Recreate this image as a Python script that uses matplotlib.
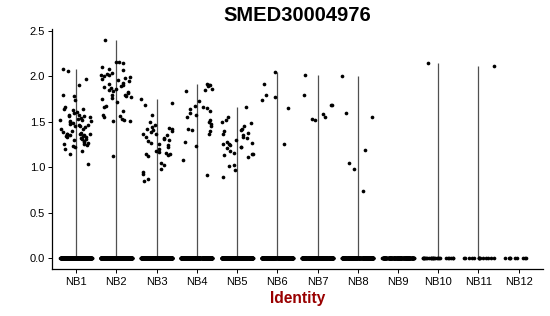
import numpy as np
import matplotlib
matplotlib.use("Agg")
import matplotlib.pyplot as plt

plt.rcParams['font.family'] = ['Liberation Sans', 'DejaVu Sans']

title = "SMED30004976"
xlabel = "Identity"
categories = ["NB1", "NB2", "NB3", "NB4", "NB5", "NB6", "NB7", "NB8", "NB9", "NB10", "NB11", "NB12"]

nb1 = [2.08, 2.06, 1.97, 1.90, 1.80, 1.78, 1.74, 1.66, 1.64, 1.64, 1.63, 1.61, 1.60, 1.58, 1.56, 1.55,
       1.56, 1.54, 1.52, 1.51, 1.52, 1.51, 1.50, 1.48, 1.47, 1.46, 1.45, 1.44, 1.42, 1.42, 1.40, 1.39,
       1.38, 1.37, 1.36, 1.36, 1.35, 1.35, 1.34, 1.33, 1.33, 1.32, 1.31, 1.31, 1.30, 1.29, 1.27, 1.25,
       1.24, 1.23, 1.22, 1.20, 1.18, 1.15, 1.04, 1.57, 1.53, 1.49, 1.45, 1.37, 1.34, 1.28, 1.26]
nb2 = [2.40, 2.16, 2.15, 2.16, 2.10, 2.08, 2.07, 2.04, 2.03, 2.02, 2.01, 1.99, 1.97, 1.96, 1.95, 1.93,
       1.92, 1.89, 1.88, 1.86, 1.85, 1.83, 1.82, 1.80, 1.79, 1.78, 1.77, 1.76, 1.72, 1.67, 1.66, 1.62,
       1.58, 1.56, 1.55, 1.53, 1.52, 1.51, 1.51, 1.12, 1.84, 1.91, 1.98, 2.00, 1.87, 1.75]
nb3 = [1.75, 1.71, 1.69, 1.57, 1.50, 1.46, 1.44, 1.43, 1.42, 1.42, 1.41, 1.40, 1.39, 1.36, 1.35, 1.33,
       1.31, 1.30, 1.29, 1.27, 1.26, 1.24, 1.22, 1.18, 1.17, 1.16, 1.15, 1.14, 1.13, 1.12, 1.05, 1.02,
       0.98, 0.95, 0.92, 0.87, 0.85, 1.37, 1.32, 1.20]
nb4 = [1.92, 1.91, 1.90, 1.89, 1.86, 1.85, 1.84, 1.73, 1.67, 1.66, 1.64, 1.62, 1.60, 1.57, 1.55, 1.52,
       1.50, 1.48, 1.42, 1.41, 1.40, 1.37, 1.28, 1.23, 1.08, 0.91, 1.65, 1.45]
nb5 = [1.66, 1.55, 1.52, 1.50, 1.49, 1.42, 1.41, 1.40, 1.38, 1.36, 1.33, 1.32, 1.30, 1.28, 1.27, 1.25,
       1.24, 1.22, 1.22, 1.21, 1.18, 1.16, 1.15, 1.14, 1.13, 1.11, 1.02, 1.01, 0.97, 0.89, 1.45, 1.35, 1.26]
nb6 = [2.05, 1.92, 1.80, 1.77, 1.74, 1.65, 1.26]
nb7 = [2.01, 1.79, 1.69, 1.68, 1.59, 1.55, 1.53, 1.52]
nb8 = [2.00, 1.60, 1.55, 1.19, 1.05, 0.98, 0.74]
nb9 = []
nb10 = [2.15]
nb11 = [2.11]
nb12 = []
expressed = [nb1, nb2, nb3, nb4, nb5, nb6, nb7, nb8, nb9, nb10, nb11, nb12]
zero_counts = [400, 380, 380, 350, 350, 300, 300, 300, 200, 25, 14, 9]

fig = plt.figure(figsize=(5.5, 3.16), dpi=100)
ax = fig.add_axes([0.0945, 0.1487, 0.8925, 0.7593])

rng = np.random.default_rng(3)
for i, (vals, nz) in enumerate(zip(expressed, zero_counts)):
    pos = i + 1
    allv = np.array(list(vals) + [0.0] * nz)
    if allv.max() > 0:
        ax.vlines(pos, allv.min(), allv.max(), color='#505050', lw=0.9, zorder=1)
    xs = pos + rng.uniform(-0.39, 0.39, size=len(allv))
    ax.scatter(xs, allv, s=7, c='black', linewidths=0, zorder=2)

ax.set_xlim(0.4, len(categories) + 0.6)
ax.set_ylim(-0.12, 2.52)
ax.set_xticks(range(1, len(categories) + 1))
ax.set_xticklabels(categories)
ax.set_yticks([0, 0.5, 1.0, 1.5, 2.0, 2.5])
ax.set_yticklabels(["0.0", "0.5", "1.0", "1.5", "2.0", "2.5"])
for s in ['top', 'right']:
    ax.spines[s].set_visible(False)
for s in ['left', 'bottom']:
    ax.spines[s].set_linewidth(0.9)
ax.tick_params(axis='both', labelsize=8, length=3, width=0.7, colors='black')
ax.tick_params(axis='x', pad=2.5)
ax.tick_params(axis='y', pad=2)

ax.set_title(title, fontsize=14.5, fontweight='bold', pad=5.5)
ax.set_xlabel(xlabel, fontsize=11.2, fontweight='bold', color='#990000', labelpad=3)

fig.savefig("out.png", dpi=100)
